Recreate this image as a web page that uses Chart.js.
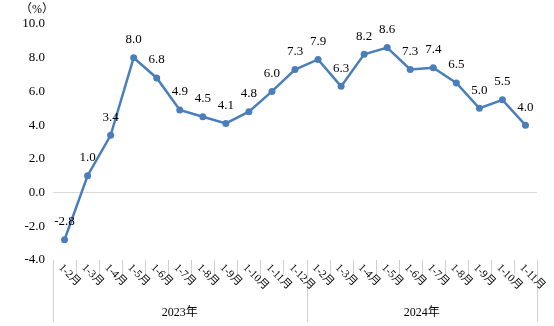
<!DOCTYPE html>
<html>
<head>
<meta charset="utf-8">
<script src="https://cdn.jsdelivr.net/npm/chart.js@4/dist/chart.umd.min.js"></script>
<style>
  html, body { margin: 0; padding: 0; background: #fff; }
  #wrap { width: 554px; height: 326px; }
</style>
</head>
<body>
<div id="wrap"><canvas id="growth"></canvas></div>
<script>
// cumulative growth, year-on-year (%)
const periods = ['1-2月', '1-3月', '1-4月', '1-5月', '1-6月', '1-7月', '1-8月', '1-9月', '1-10月', '1-11月', '1-12月',
                 '1-2月', '1-3月', '1-4月', '1-5月', '1-6月', '1-7月', '1-8月', '1-9月', '1-10月', '1-11月'];
const growth = [-2.8, 1.0, 3.4, 8.0, 6.8, 4.9, 4.5, 4.1, 4.8, 6.0, 7.3,
                7.9, 6.3, 8.2, 8.6, 7.3, 7.4, 6.5, 5.0, 5.5, 4.0];
const years = ['2023年', '2024年'];
const yearSizes = [11, 10];
const unitLabel = '（%）';

const serif = "'Liberation Serif', 'Times New Roman', 'Noto Sans CJK SC', serif";
const lineColor = '#4a7ebb';
const tickColor = '#d0d0d0';

// labels, value tags and year groups under the axis
const decorations = {
    id: 'decorations',
    afterDatasetsDraw(chart) {
        const ctx = chart.ctx;
        const area = chart.chartArea;
        const x = chart.scales.x;
        const step = (area.right - area.left) / periods.length;

        ctx.save();

        // value above each point
        ctx.font = '13px ' + serif;
        ctx.fillStyle = '#000';
        ctx.textAlign = 'center';
        ctx.textBaseline = 'middle';
        chart.getDatasetMeta(0).data.forEach((pt, i) => {
            ctx.fillText(growth[i].toFixed(1), pt.x, pt.y - 18);
        });

        // unit
        ctx.font = '12px ' + serif;
        ctx.fillText(unitLabel, 37, 10);

        // short ticks between categories
        ctx.strokeStyle = tickColor;
        ctx.lineWidth = 1;
        const boundaries = [0];
        let acc = 0;
        yearSizes.forEach(n => { acc += n; boundaries.push(acc); });
        for (let i = 0; i <= periods.length; i++) {
            const bx = Math.round(area.left + i * step) + 0.5;
            const long = boundaries.includes(i);
            ctx.beginPath();
            ctx.moveTo(bx, area.bottom);
            ctx.lineTo(bx, long ? area.bottom + 62 : area.bottom + 14);
            ctx.stroke();
        }

        // rotated period labels
        ctx.font = '11px ' + serif;
        ctx.textAlign = 'left';
        ctx.textBaseline = 'middle';
        periods.forEach((lab, i) => {
            const px = x.getPixelForValue(i);
            ctx.save();
            ctx.translate(px - 4, area.bottom + 6);
            ctx.rotate(Math.PI / 4);
            ctx.fillText(lab, 0, 0);
            ctx.restore();
        });

        // year groups
        ctx.font = '12px ' + serif;
        ctx.textAlign = 'center';
        years.forEach((yr, k) => {
            const x0 = area.left + boundaries[k] * step;
            const x1 = area.left + boundaries[k + 1] * step;
            ctx.fillText(yr, (x0 + x1) / 2, area.bottom + 53);
        });

        ctx.restore();
    }
};

new Chart(document.getElementById('growth'), {
    type: 'line',
    data: {
        labels: periods,
        datasets: [{
            data: growth,
            borderColor: lineColor,
            backgroundColor: lineColor,
            borderWidth: 2.5,
            pointRadius: 3.5,
            pointBackgroundColor: lineColor,
            pointBorderWidth: 0,
            tension: 0
        }]
    },
    options: {
        responsive: true,
        maintainAspectRatio: false,
        animation: false,
        layout: {
            padding: { top: 24, right: 17, bottom: 66, left: 0 }
        },
        scales: {
            x: {
                display: false,
                offset: true
            },
            y: {
                min: -4,
                max: 10,
                afterFit(scale) { scale.width = 53; },
                border: { display: false },
                grid: {
                    drawTicks: false,
                    color: c => (c.tick && c.tick.value === 0) ? '#d9d9d9' : 'transparent'
                },
                ticks: {
                    stepSize: 2,
                    padding: 8,
                    color: '#000',
                    font: { family: serif, size: 13 },
                    callback: v => v.toFixed(1)
                }
            }
        },
        plugins: {
            legend: { display: false },
            tooltip: { enabled: false }
        }
    },
    plugins: [decorations]
});
</script>
</body>
</html>
